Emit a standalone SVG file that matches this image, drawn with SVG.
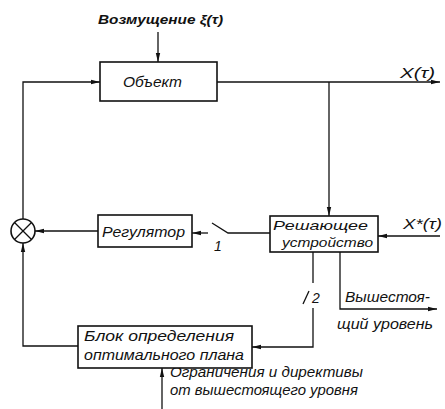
<svg xmlns="http://www.w3.org/2000/svg" width="445" height="409" viewBox="0 0 445 409">
<style>
  .box { fill: #fff; stroke: #111; stroke-width: 1.6; }
  .ln { fill: none; stroke: #111; stroke-width: 1.3; }
  .t { font-family: "Liberation Sans", "DejaVu Sans", sans-serif; font-style: italic; font-size: 14px; fill: #111; }
  .s { font-size: 13px; }
  .b { font-weight: bold; font-size: 13px; }
</style>
<defs>
  <marker id="ar" markerUnits="userSpaceOnUse" markerWidth="10" markerHeight="6" refX="9" refY="3" orient="auto">
    <path d="M0,0.8 L9,3 L0,5.2 Z" fill="#111"/>
  </marker>
</defs>
<rect width="445" height="409" fill="#fff"/>
<g id="connectors">
  <line class="ln" x1="158" y1="32" x2="158" y2="62" marker-end="url(#ar)"/>
  <line class="ln" x1="217" y1="82" x2="440" y2="82" marker-end="url(#ar)"/>
  <polyline class="ln" points="23,219 23,82 100,82" marker-end="url(#ar)"/>
  <line class="ln" x1="329" y1="82" x2="329" y2="216" marker-end="url(#ar)"/>
  <line class="ln" x1="440" y1="236" x2="378" y2="236" marker-end="url(#ar)"/>
  <polyline class="ln" points="270,233 228,233 212,223"/>
  <line class="ln" x1="208" y1="233" x2="192" y2="233" marker-end="url(#ar)"/>
  <line class="ln" x1="98" y1="231" x2="35" y2="231" marker-end="url(#ar)"/>
  <line class="ln" x1="313" y1="252" x2="313" y2="283"/>
  <line class="ln" x1="303" y1="304" x2="309" y2="291"/>
  <polyline class="ln" points="313,308 313,347 252,347" marker-end="url(#ar)"/>
  <polyline class="ln" points="340,252 340,309 437,309" marker-end="url(#ar)"/>
  <polyline class="ln" points="78,346 23,346 23,243" marker-end="url(#ar)"/>
  <line class="ln" x1="162" y1="409" x2="162" y2="368" marker-end="url(#ar)"/>
  <text class="t" x="214" y="251" font-size="13">1</text>
  <text class="t" x="312" y="303" font-size="15">2</text>
  <text class="t" x="400" y="78" textLength="35" lengthAdjust="spacingAndGlyphs">X(τ)</text>
  <text class="t" x="403" y="229" textLength="39" lengthAdjust="spacingAndGlyphs">X*(τ)</text>
  <text class="t" x="345" y="302" textLength="85" lengthAdjust="spacingAndGlyphs">Вышестоя-</text>
  <text class="t" x="337" y="329" textLength="96" lengthAdjust="spacingAndGlyphs">щий уровень</text>
  <text class="t" x="170" y="377" textLength="193" lengthAdjust="spacingAndGlyphs">Ограничения и директивы</text>
  <text class="t" x="170" y="395" textLength="188" lengthAdjust="spacingAndGlyphs">от вышестоящего уровня</text>
  <text class="t b" x="98" y="24" textLength="125" lengthAdjust="spacingAndGlyphs">Возмущение ξ(τ)</text>
</g>
<g id="object">
  <rect class="box" x="100" y="62" width="117" height="39"/>
  <text class="t" x="123" y="87" textLength="59" lengthAdjust="spacingAndGlyphs">Объект</text>
</g>
<g id="sum">
  <circle class="box" cx="23" cy="231" r="12"/>
  <line class="ln" x1="14.5" y1="222.5" x2="31.5" y2="239.5"/>
  <line class="ln" x1="31.5" y1="222.5" x2="14.5" y2="239.5"/>
</g>
<g id="regulator">
  <rect class="box" x="98" y="215" width="94" height="32"/>
  <text class="t" x="102" y="237" textLength="83" lengthAdjust="spacingAndGlyphs">Регулятор</text>
</g>
<g id="decision">
  <rect class="box" x="270" y="216" width="108" height="36"/>
  <text class="t s" x="273" y="230" textLength="95" lengthAdjust="spacingAndGlyphs">Решающее</text>
  <text class="t s" x="282" y="247" textLength="91" lengthAdjust="spacingAndGlyphs">устройство</text>
</g>
<g id="plan">
  <rect class="box" x="78" y="326" width="174" height="42"/>
  <text class="t" x="84" y="341" textLength="150" lengthAdjust="spacingAndGlyphs">Блок определения</text>
  <text class="t" x="84" y="360" textLength="160" lengthAdjust="spacingAndGlyphs">оптимального плана</text>
</g>
</svg>
